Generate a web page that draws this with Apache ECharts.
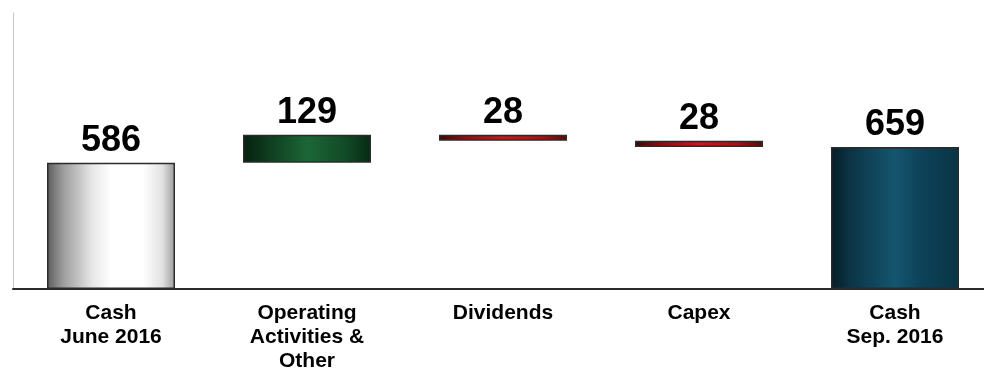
<!DOCTYPE html>
<html>
<head>
<meta charset="utf-8">
<style>
  html, body { margin: 0; padding: 0; background: #fff; }
  #chart { width: 984px; height: 368px; }
</style>
<script src="https://cdn.jsdelivr.net/npm/echarts@6/dist/echarts.min.js"></script>
</head>
<body>
<div id="chart"></div>
<script>
// Cash bridge, June 2016 -> September 2016
const categories = ['Cash\nJune 2016', 'Operating\nActivities &\nOther', 'Dividends', 'Capex', 'Cash\nSep. 2016'];
const openingCash = 586;
const movements = [129, -28, -28];   // operating inflow, dividends, capex
const closingCash = 659;

// Floating bases and visible heights for the waterfall
const bases = [0];
const heights = [openingCash];
let running = openingCash;
movements.forEach(function (m) {
  const next = running + m;
  bases.push(Math.min(running, next));
  heights.push(Math.abs(m));
  running = next;
});
bases.push(0);
heights.push(closingCash);

function hGrad(stops) {
  return new echarts.graphic.LinearGradient(0, 0, 1, 0,
    stops.map(function (s) { return { offset: s[0], color: s[1] }; }));
}

const startFill = hGrad([[0, '#5c5c5c'], [0.12, '#9a9a9a'], [0.35, '#e6e6e6'], [0.5, '#ffffff'], [0.75, '#ffffff'], [0.9, '#e2e2e2'], [1, '#9c9c9c']]);
const upFill = hGrad([[0, '#06200f'], [0.2, '#0e3d1e'], [0.5, '#1c6636'], [0.8, '#124a26'], [1, '#072812']]);
const downFill = hGrad([[0, '#3a0606'], [0.2, '#8e0e0e'], [0.5, '#c81a1a'], [0.8, '#a91212'], [1, '#5a0808']]);
const endFill = hGrad([[0, '#061c26'], [0.15, '#0b3446'], [0.5, '#14566e'], [0.7, '#0d4258'], [1, '#0a3446']]);

const fills = [startFill, upFill, downFill, downFill, endFill];

const chart = echarts.init(document.getElementById('chart'), null, { renderer: 'canvas' });

chart.setOption({
  animation: false,
  backgroundColor: '#ffffff',
  grid: { left: 13, top: 13, width: 980, height: 276, containLabel: false, outerBoundsMode: 'none' },
  xAxis: {
    type: 'category',
    data: categories,
    axisTick: { show: false },
    axisLine: { lineStyle: { color: '#2a2a2a', width: 2 } },
    axisLabel: {
      interval: 0,
      margin: 12,
      color: '#000',
      fontFamily: 'Liberation Sans, Arial, sans-serif',
      fontWeight: 'bold',
      fontSize: 21,
      lineHeight: 24
    }
  },
  yAxis: {
    type: 'value',
    min: 0,
    max: 1280,
    splitLine: { show: false },
    axisLabel: { show: false },
    axisTick: { show: false },
    axisLine: { show: true, lineStyle: { color: '#c4c4c4', width: 1 } }
  },
  series: [
    {
      type: 'bar',
      stack: 'bridge',
      barWidth: 128,
      silent: true,
      itemStyle: { color: 'transparent' },
      data: bases
    },
    {
      type: 'bar',
      stack: 'bridge',
      barWidth: 128,
      data: heights.map(function (v, i) {
        return {
          value: v,
          itemStyle: { color: fills[i], borderColor: '#2b2b2b', borderWidth: 1.5 }
        };
      }),
      label: {
        show: true,
        position: 'top',
        distance: 4,
        color: '#000',
        fontFamily: 'Liberation Sans, Arial, sans-serif',
        fontWeight: 'bold',
        fontSize: 36
      }
    }
  ]
});
</script>
</body>
</html>
